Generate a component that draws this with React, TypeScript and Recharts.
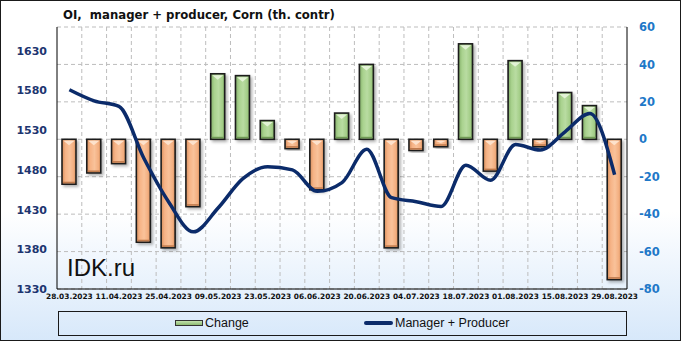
import React from "react";
import {
  ComposedChart,
  Bar,
  Line,
  XAxis,
  YAxis,
  CartesianGrid,
} from "recharts";

// weekly report dates
const dates = [
  "28.03.2023", "04.04.2023", "11.04.2023", "18.04.2023", "25.04.2023",
  "02.05.2023", "09.05.2023", "16.05.2023", "23.05.2023", "30.05.2023",
  "06.06.2023", "13.06.2023", "20.06.2023", "27.06.2023", "04.07.2023",
  "11.07.2023", "18.07.2023", "25.07.2023", "01.08.2023", "08.08.2023",
  "15.08.2023", "22.08.2023", "29.08.2023",
];

// weekly change (right axis)
const change = [
  -24, -18, -13, -55, -58, -36, 35, 34, 10, -5, -27, 14, 40,
  -58, -6, -4, 51, -17, 42, -4, 25, 18, -75,
];

// manager + producer open interest (left axis)
const managerProducer = [
  1581, 1567, 1560, 1495, 1440, 1402, 1432, 1469, 1484, 1480, 1453, 1464, 1506,
  1445, 1440, 1434, 1486, 1467, 1512, 1505, 1528, 1551, 1474,
];

const leftTicks = [1330, 1380, 1430, 1480, 1530, 1580, 1630];
const rightTicks = [-80, -60, -40, -20, 0, 20, 40, 60];

const data = dates.map((d, i) => ({
  date: d,
  change: change[i],
  mp: managerProducer[i],
}));

const axisFont = "'DejaVu Sans', Verdana, sans-serif";
const legendFont = "'Liberation Sans', Arial, sans-serif";

const BarShape = (props: any) => {
  const { x, y, width, height, payload } = props;
  const top = Math.min(y, y + height);
  const h = Math.abs(height);
  const up = payload.change >= 0;
  const tri = Math.min(6, h / 2);
  return (
    <g filter="url(#shadow)">
      <rect
        x={x}
        y={top}
        width={width}
        height={h}
        fill={up ? "url(#gGreen)" : "url(#gOrange)"}
        stroke="#1e1e1e"
        strokeWidth={1.6}
      />
      <polygon
        points={`${x + 1.5},${top + 1.5} ${x + width - 1.5},${top + 1.5} ${x + width / 2},${top + tri}`}
        fill={up ? "#e3f3d6" : "#fde2cc"}
      />
      <rect
        x={x + 1}
        y={top + h - 2.5}
        width={width - 2}
        height={Math.min(1.5, h)}
        fill={up ? "#6f9a55" : "#c07a4c"}
      />
    </g>
  );
};

export default function App() {
  return (
    <div
      style={{
        position: "absolute",
        left: 0,
        top: 0,
        width: 681,
        height: 341,
        background:
          "linear-gradient(to bottom, #ffffff 0%, #ffffff 62%, #d7e8fa 100%)",
        overflow: "hidden",
      }}
    >
      <ComposedChart
        width={681}
        height={341}
        data={data}
        margin={{ top: 27, right: 0, bottom: 0, left: 0 }}
        barCategoryGap={0}
      >
        <defs>
          <linearGradient id="gOrange" x1="0" y1="0" x2="1" y2="0">
            <stop offset="0%" stopColor="#d8905e" />
            <stop offset="25%" stopColor="#f6b386" />
            <stop offset="55%" stopColor="#f9c29a" />
            <stop offset="85%" stopColor="#f2ad7e" />
            <stop offset="100%" stopColor="#c98453" />
          </linearGradient>
          <linearGradient id="gGreen" x1="0" y1="0" x2="1" y2="0">
            <stop offset="0%" stopColor="#82ad68" />
            <stop offset="25%" stopColor="#a9d28e" />
            <stop offset="55%" stopColor="#b9dca2" />
            <stop offset="85%" stopColor="#a2cc86" />
            <stop offset="100%" stopColor="#78a35e" />
          </linearGradient>
          <filter id="shadow" x="-30%" y="-10%" width="160%" height="130%">
            <feDropShadow dx="2" dy="2" stdDeviation="1.5" floodColor="#000" floodOpacity="0.3" />
          </filter>
        </defs>
        <CartesianGrid
          yAxisId="right"
          stroke="#bdbdbd"
          strokeDasharray="4 3"
          verticalCoordinatesGenerator={({ offset }: any) =>
            dates.slice(1).map((_, i) => offset.left + (offset.width * (i + 1)) / dates.length)
          }
        />
        <XAxis
          dataKey="date"
          interval={1}
          tickSize={0}
          tickMargin={5}
          height={52}
          axisLine={{ stroke: "#000", strokeWidth: 1 }}
          tick={{ fontSize: 7.4, fontWeight: "bold", fill: "#111", fontFamily: axisFont }}
        />
        <XAxis
          xAxisId="top"
          dataKey="date"
          orientation="top"
          height={0}
          tick={false}
          tickLine={false}
          axisLine={{ stroke: "#000", strokeWidth: 1 }}
        />
        <YAxis
          yAxisId="left"
          orientation="left"
          width={57}
          domain={[1330, 1660]}
          ticks={leftTicks}
          tickSize={0}
          tickMargin={10}
          axisLine={{ stroke: "#000", strokeWidth: 1 }}
          tick={{ fontSize: 11, fontWeight: "bold", fill: "#1d3570", fontFamily: axisFont }}
        />
        <YAxis
          yAxisId="right"
          orientation="right"
          width={54}
          domain={[-80, 60]}
          ticks={rightTicks}
          tickSize={0}
          tickMargin={12}
          axisLine={{ stroke: "#000", strokeWidth: 1 }}
          tick={{ fontSize: 11.5, fontWeight: "bold", fill: "#1e78c8", fontFamily: axisFont, textAnchor: "start" }}
        />
        <Bar
          yAxisId="right"
          dataKey="change"
          barSize={14}
          shape={BarShape}
          isAnimationActive={false}
        />
        <Line
          yAxisId="left"
          type="monotone"
          dataKey="mp"
          stroke="#0b2b6a"
          strokeWidth={3.5}
          dot={false}
          activeDot={false}
          isAnimationActive={false}
        />
      </ComposedChart>

      <div
        style={{
          position: "absolute",
          left: 63,
          top: 8,
          fontFamily: axisFont,
          fontWeight: "bold",
          fontSize: 11.7,
          lineHeight: "14px",
          color: "#111",
          whiteSpace: "pre",
        }}
      >
        OI,  manager + producer, Corn (th. contr)
      </div>

      <div
        style={{
          position: "absolute",
          left: 67,
          top: 255,
          fontFamily: legendFont,
          fontSize: 24,
          lineHeight: "26px",
          color: "#111",
        }}
      >
        IDK.ru
      </div>

      <div
        style={{
          position: "absolute",
          left: 58,
          top: 311,
          width: 569,
          height: 25,
          boxSizing: "border-box",
          border: "1px solid #1a1a1a",
          fontFamily: legendFont,
          fontSize: 12.5,
          color: "#111",
        }}
      >
        <div
          style={{
            position: "absolute",
            left: 116,
            top: 8,
            width: 28,
            height: 6,
            boxSizing: "border-box",
            border: "1px solid #333",
            background: "linear-gradient(to bottom, #c3e2ad, #8dbb72)",
          }}
        />
        <div style={{ position: "absolute", left: 146, top: 4, lineHeight: "15px" }}>
          Change
        </div>
        <div
          style={{
            position: "absolute",
            left: 305,
            top: 9,
            width: 29,
            height: 4,
            borderRadius: 2,
            background: "#0b2b6a",
          }}
        />
        <div style={{ position: "absolute", left: 336, top: 4, lineHeight: "15px" }}>
          Manager + Producer
        </div>
      </div>

      <div
        style={{
          position: "absolute",
          left: 0,
          top: 0,
          width: 681,
          height: 341,
          boxSizing: "border-box",
          border: "1px solid #1a1a1a",
          pointerEvents: "none",
        }}
      />
    </div>
  );
}
